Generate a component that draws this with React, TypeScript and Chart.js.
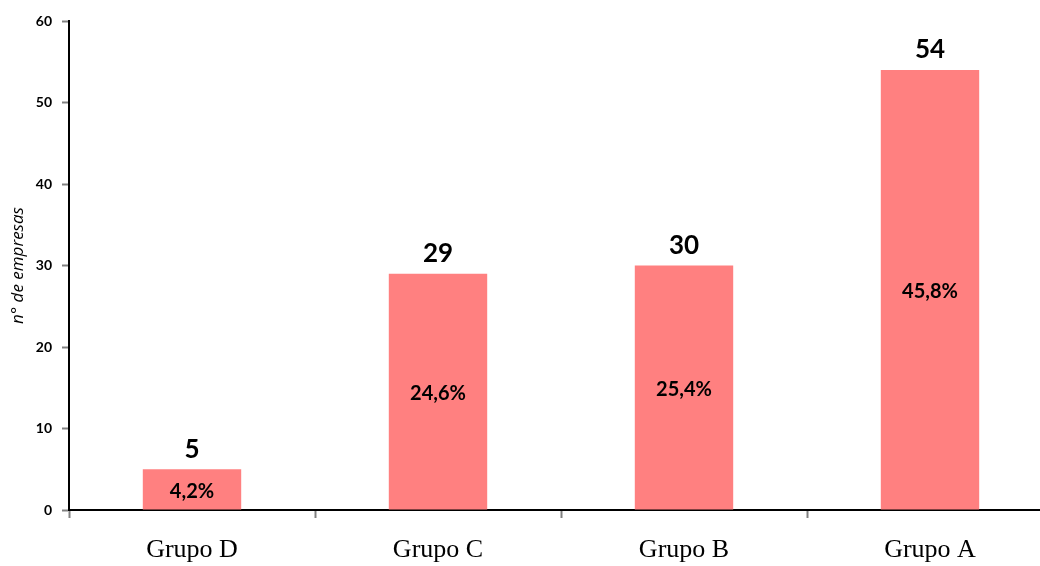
import React, { useEffect, useRef } from "react";
import { Chart, registerables } from "chart.js";

Chart.register(...registerables);

const categories = ["Grupo D", "Grupo C", "Grupo B", "Grupo A"];
const values = [5, 29, 30, 54];
const percentLabels = ["4,2%", "24,6%", "25,4%", "45,8%"];
const yTicks = [0, 10, 20, 30, 40, 50, 60];
const yTitle = "n° de empresas";

const labelPlugin = {
  id: "barLabels",
  afterDatasetsDraw(chart: any) {
    const ctx = chart.ctx;
    const meta = chart.getDatasetMeta(0);
    ctx.save();
    ctx.fillStyle = "#000";
    ctx.textAlign = "center";
    ctx.textBaseline = "middle";
    meta.data.forEach((bar: any, i: number) => {
      ctx.font = "bold 26px Lato, 'Open Sans', sans-serif";
      ctx.fillText(String(values[i]), bar.x, bar.y - 20);
      ctx.font = "bold 20px Lato, 'Open Sans', sans-serif";
      ctx.fillText(percentLabels[i], bar.x, (bar.y + bar.base) / 2 + 2);
    });
    ctx.restore();
  },
};

export default function App() {
  const ref = useRef<HTMLCanvasElement>(null);
  useEffect(() => {
    if (!ref.current) return;
    const chart = new Chart(ref.current, {
      type: "bar",
      data: {
        labels: categories,
        datasets: [
          {
            data: values,
            backgroundColor: "#FF8080",
            borderWidth: 0,
            categoryPercentage: 0.4,
            barPercentage: 1,
          },
        ],
      },
      options: {
        animation: false,
        responsive: false,
        maintainAspectRatio: false,
        layout: { padding: { top: 21, right: 7, left: 0, bottom: 0 } },
        plugins: {
          legend: { display: false },
          tooltip: { enabled: false },
        },
        scales: {
          x: {
            grid: {
              offset: true,
              drawOnChartArea: false,
              drawTicks: true,
              tickLength: 8,
              tickColor: "#808080",
              tickWidth: 2,
            },
            border: { color: "#000", width: 2 },
            ticks: {
              color: "#000",
              padding: 17,
              font: { family: "'Liberation Serif', 'Times New Roman', serif", size: 26 },
            },
            afterFit(scale: any) {
              scale.height = 56;
            },
          },
          y: {
            min: 0,
            max: 60,
            afterBuildTicks(scale: any) {
              scale.ticks = yTicks.map((v) => ({ value: v }));
            },
            grid: {
              drawOnChartArea: false,
              drawTicks: true,
              tickLength: 7,
              tickColor: "#808080",
              tickWidth: 2,
            },
            border: { color: "#000", width: 2 },
            ticks: {
              color: "#000",
              padding: 10,
              font: { family: "Lato, 'Open Sans', sans-serif", size: 14, weight: "bold" },
            },
            title: {
              display: true,
              text: yTitle,
              color: "#000",
              padding: { top: 8, bottom: 0 },
              font: { family: "'Open Sans', sans-serif", size: 17, style: "italic" },
            },
            afterFit(scale: any) {
              scale.width = 69;
            },
          },
        },
      },
      plugins: [labelPlugin],
    });
    return () => chart.destroy();
  }, []);
  return (
    <div
      style={{
        position: "fixed",
        left: 0,
        top: 0,
        width: 1040,
        height: 566,
        overflow: "hidden",
        background: "#fff",
      }}
    >
      <canvas ref={ref} width={1060} height={566} style={{ display: "block" }} />
    </div>
  );
}
